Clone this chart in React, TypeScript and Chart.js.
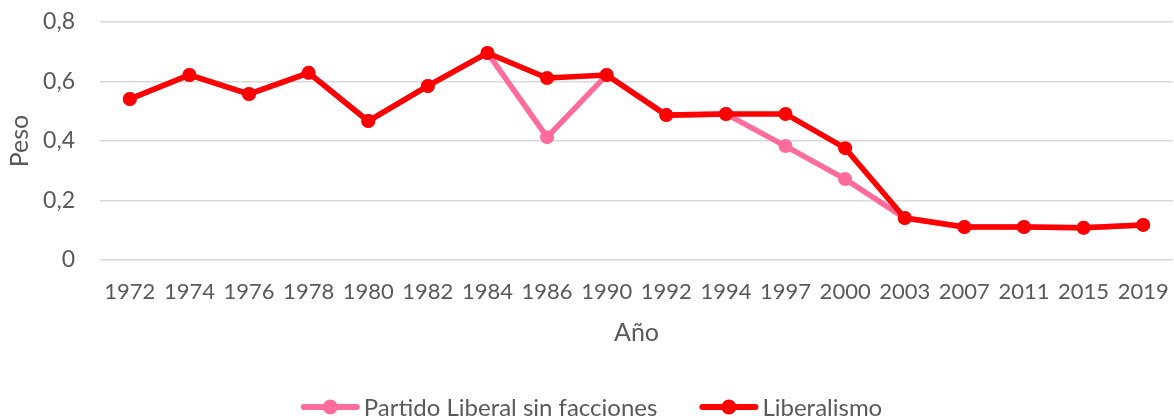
import React, { useEffect, useRef } from "react";
import { Chart, registerables } from "chart.js";

Chart.register(...registerables);

const years = ["1972","1974","1976","1978","1980","1982","1984","1986","1990","1992","1994","1997","2000","2003","2007","2011","2015","2019"];
const liberalismo = [0.541,0.622,0.558,0.629,0.467,0.585,0.696,0.612,0.622,0.487,0.491,0.491,0.376,0.141,0.111,0.111,0.108,0.118];
const partidoLiberal = [0.541,0.622,0.558,0.629,0.467,0.585,0.696,0.413,0.622,0.487,0.491,0.383,0.272,0.141,0.111,0.111,0.108,0.118];
const yTicks = [0, 0.2, 0.4, 0.6, 0.8];
const legendLabels = ["Partido Liberal sin facciones", "Liberalismo"];

const RED = "#FF0000";
const PINK = "#FF6B9A";
const TEXT = "#595959";
const FONT = "Lato, 'Open Sans', sans-serif";

const legendPlugin = {
  id: "lineLegend",
  afterDraw(chart: any) {
    const ctx = chart.ctx as CanvasRenderingContext2D;
    const items = [
      { text: legendLabels[0], color: PINK },
      { text: legendLabels[1], color: RED },
    ];
    const iconW = 59;
    const textGap = 4;
    const itemGap = 42;
    ctx.save();
    ctx.font = `24px ${FONT}`;
    const widths = items.map((it) => iconW + textGap + ctx.measureText(it.text).width);
    const total = widths.reduce((a, b) => a + b, 0) + itemGap * (items.length - 1);
    let x = 591.5 - total / 2;
    const y = 407;
    items.forEach((it, i) => {
      ctx.strokeStyle = it.color;
      ctx.fillStyle = it.color;
      ctx.lineWidth = 6;
      ctx.lineCap = "round";
      ctx.beginPath();
      ctx.moveTo(x + 3, y);
      ctx.lineTo(x + iconW - 3, y);
      ctx.stroke();
      ctx.beginPath();
      ctx.arc(x + iconW / 2, y, 7.5, 0, Math.PI * 2);
      ctx.fill();
      ctx.fillStyle = TEXT;
      ctx.textBaseline = "middle";
      ctx.textAlign = "left";
      ctx.fillText(it.text, x + iconW + textGap, y + 1);
      x += widths[i] + itemGap;
    });
    ctx.restore();
  },
};

export default function App() {
  const ref = useRef<HTMLCanvasElement | null>(null);
  useEffect(() => {
    document.body.style.margin = "0";
    const common = {
      borderWidth: 5.5,
      pointRadius: 7,
      pointHoverRadius: 7,
      pointBorderWidth: 0,
      tension: 0,
    };
    const chart = new Chart(ref.current!, {
      type: "line",
      data: {
        labels: years,
        datasets: [
          { label: "Liberalismo", data: liberalismo, borderColor: RED, backgroundColor: RED, ...common },
          { label: "Partido Liberal sin facciones", data: partidoLiberal, borderColor: PINK, backgroundColor: PINK, ...common },
        ],
      },
      options: {
        animation: false,
        responsive: false,
        maintainAspectRatio: false,
        layout: { autoPadding: false, padding: { left: 0, right: 1, top: 22, bottom: 0 } },
        scales: {
          x: {
            offset: true,
            grid: { display: false, drawTicks: false },
            border: { display: false },
            afterFit: (s: any) => {
              s.height = 158;
              s.paddingLeft = 0;
              s.paddingRight = 0;
            },
            ticks: {
              autoSkip: false,
              maxRotation: 0,
              padding: 19,
              color: TEXT,
              font: { family: FONT, size: 22 },
            },
            title: {
              display: true,
              text: "Año",
              color: TEXT,
              font: { family: FONT, size: 25 },
              padding: { top: 0, bottom: 70 },
            },
          },
          y: {
            min: 0,
            max: 0.8,
            afterBuildTicks: (axis: any) => {
              axis.ticks = yTicks.map((v) => ({ value: v }));
            },
            afterFit: (s: any) => {
              s.width = 100;
              s.paddingTop = 0;
              s.paddingBottom = 0;
            },
            grid: { color: "#D9D9D9", lineWidth: 1.5, drawTicks: false },
            border: { display: false },
            ticks: {
              padding: 25,
              color: TEXT,
              font: { family: FONT, size: 23 },
              callback: (v: any) => (Number(v) === 0 ? "0" : Number(v).toFixed(1).replace(".", ",")),
            },
            title: {
              display: true,
              text: "Peso",
              color: TEXT,
              font: { family: FONT, size: 25 },
              padding: { top: 5, bottom: 0 },
            },
          },
        },
        plugins: {
          tooltip: { enabled: false },
          legend: { display: false },
        },
      } as any,
      plugins: [legendPlugin],
    });
    return () => chart.destroy();
  }, []);
  return <canvas ref={ref} width={1174} height={418} style={{ display: "block" }} />;
}
